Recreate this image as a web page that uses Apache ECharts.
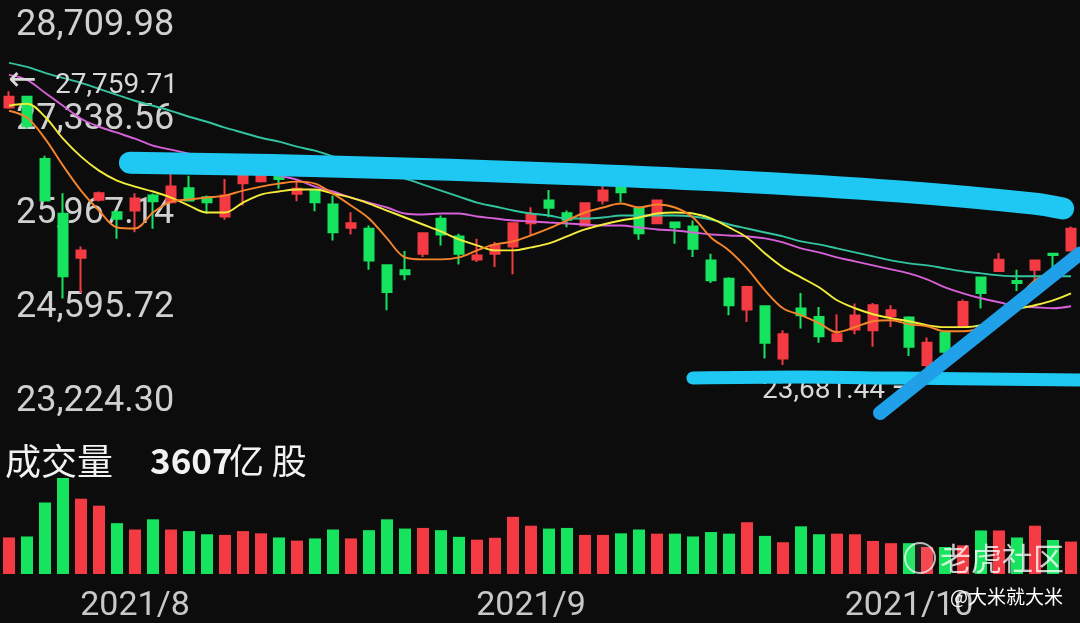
<!DOCTYPE html>
<html><head><meta charset="utf-8">
<script src="https://cdn.jsdelivr.net/npm/echarts@6/dist/echarts.min.js"></script>
<style>html,body{margin:0;padding:0;background:#0c0c0c;}#c{width:1080px;height:623px;}</style>
</head><body><div id="c"></div>
<script>
// ---- data ----
const dates = ['2021-07-22','2021-07-23','2021-07-26','2021-07-27','2021-07-28','2021-07-29','2021-07-30',
 '2021-08-02','2021-08-03','2021-08-04','2021-08-05','2021-08-06','2021-08-09','2021-08-10','2021-08-11','2021-08-12','2021-08-13',
 '2021-08-16','2021-08-17','2021-08-18','2021-08-19','2021-08-20','2021-08-23','2021-08-24','2021-08-25','2021-08-26','2021-08-27',
 '2021-08-30','2021-08-31',
 '2021-09-01','2021-09-02','2021-09-03','2021-09-06','2021-09-07','2021-09-08','2021-09-09','2021-09-10','2021-09-13','2021-09-14',
 '2021-09-15','2021-09-16','2021-09-17','2021-09-20','2021-09-21','2021-09-23','2021-09-24','2021-09-27','2021-09-28','2021-09-29','2021-09-30',
 '2021-10-04','2021-10-05','2021-10-06','2021-10-07','2021-10-08','2021-10-11','2021-10-12','2021-10-15','2021-10-18','2021-10-19'];

const openP  = [27521,27677,26770,25970,25330,26174,25993,26018,26236,26139,
                26343,26212,25931,26415,26444,26575,26261,26309,26105,25766,
                25752,25218,25145,25388,25897,25640,25305,25388,25494,25833,
                26164,25979,25800,26164,26348,26043,25833,25843,25785,25290,
                25024,24573,24621,23860,24588,24465,24116,24282,24272,24476,
                24457,23763,24233,24320,25039,25135,24989,25155,25388,25436];
const closeP = [27677,27255,26164,25058,25436,26270,25897,26193,26153,26367,
                26164,26139,26236,26561,26586,26479,26334,26139,25702,25833,
                25290,24829,25087,25688,25669,25388,25363,25509,25833,25960,
                26057,25883,26124,26309,26284,25688,26164,25775,25461,24999,
                24636,24902,24087,24214,24490,24185,24214,24486,24636,24563,
                24029,24087,23956,24684,24815,25301,24960,25290,25368,25752];
const lowP   = [27502,27211,26149,24733,24815,26149,25606,25702,25752,26120,
                26149,25970,25883,26091,26425,26334,26153,26008,25581,25669,
                25155,24563,24999,25338,25509,25232,25266,25193,25087,25654,
                25921,25775,25785,26105,26139,25592,25821,25533,25338,24960,
                24490,24393,23860,23763,24297,24087,24097,24214,24029,24320,
                23894,23681.44,23825,24308,24588,25123,24844,24902,25097,25421];
const highP  = [27759.71,27691,26818,26270,25494,26294,26018,26270,26265,26552,
                26527,26236,26479,26571,26600,26639,26479,26323,26236,25993,
                25800,25232,25426,25698,25945,25679,25606,25557,25848,26066,
                26319,26018,26134,26415,26430,26076,26178,25858,25873,25388,
                25043,24919,24636,24272,24815,24611,24505,24660,24669,24636,
                24476,24166,24257,24719,25050,25397,25155,25297,25392,25785];

const volume = [1373,1409,2687,3607,2830,2568,1911,1672,2054,1672,
                1612,1493,1469,1612,1528,1373,1254,1337,1672,1337,
                1648,2054,1707,1731,1648,1397,1290,1361,2149,1815,
                1707,1731,1469,1469,1528,1672,1516,1516,1409,1576,
                1516,1946,1433,1194,1791,1493,1516,1493,1242,1158,
                1158,1015,1015,1075,1636,1636,1373,1815,1278,1218];

const ma5  = [27473,27371,27066,26673,26309,26018,25771,25756,25989,26149,
              26178,26207,26236,26309,26367,26411,26440,26411,26265,26091,
              25902,25611,25334,25305,25305,25334,25436,25523,25567,25654,
              25756,25873,25989,26062,26120,26062,26105,26062,25916,25625,
              25436,25174,24854,24592,24490,24374,24243,24316,24403,24417,
              24359,24330,24257,24257,24316,24548,24738,24999,25145,25320];
const ma10 = [27546,27575,27386,27066,26804,26600,26455,26367,26295,26207,
              26091,25989,25989,26134,26251,26295,26324,26324,26265,26207,
              26120,26018,25916,25814,25712,25596,25509,25436,25436,25480,
              25538,25640,25742,25814,25873,25916,25974,25989,25974,25902,
              25771,25625,25392,25189,25043,24898,24708,24592,24505,24447,
              24403,24345,24316,24316,24345,24461,24577,24636,24708,24810];
const ma20 = [27997,27924,27735,27546,27357,27240,27153,27066,26964,26906,
              26847,26789,26731,26658,26600,26527,26469,26367,26295,26207,
              26134,26062,25974,25960,25974,25974,25931,25902,25873,25858,
              25843,25829,25814,25800,25800,25771,25742,25727,25698,25669,
              25654,25640,25611,25552,25465,25407,25334,25276,25218,25160,
              25101,25014,24898,24810,24738,24679,24621,24607,24592,24621];
const ma60 = [28172,28113,28026,27953,27881,27793,27706,27619,27546,27473,
              27386,27313,27226,27153,27080,27022,26949,26891,26804,26702,
              26600,26542,26484,26396,26309,26222,26134,26076,26018,25974,
              25945,25902,25902,25916,25945,25945,25945,25945,25931,25887,
              25814,25756,25698,25640,25567,25523,25465,25407,25349,25290,
              25247,25218,25174,25130,25101,25072,25058,25058,25058,25058];

const priceTicks = [23224.30, 24595.72, 25967.14, 27338.56, 28709.98];
const monthTickIndex = [7, 29, 50];
const monthTickText = ['2021/8', '2021/9', '2021/10'];

// hand-drawn annotations, as [candle position, price]
const annoTop  = [[7.22,26716],[18.89,26658],[31.11,26556],[40.0,26455],[50.0,26295],[57.39,26120],[59.06,26047]];
const annoLow  = [[38.5,23573],[44.44,23588],[50,23573],[60,23544]];
const annoRise = [[48.89,23064],[60,25392]];

// ---- chart ----
const UP = '#f43a42', DOWN = '#16e35e';
const fmt = v => Number(v).toLocaleString('en-US', {minimumFractionDigits: 2, maximumFractionDigits: 2});
const chart = echarts.init(document.getElementById('c'), null, {renderer: 'canvas'});

const candleData = dates.map((d, i) => [openP[i], closeP[i], lowP[i], highP[i]]);
const volData = volume.map((v, i) => ({value: v, itemStyle: {color: closeP[i] >= openP[i] ? UP : DOWN}}));
const maLine = (data, color) => ({
  type: 'line', xAxisIndex: 0, yAxisIndex: 0, data: data, smooth: 0.35, symbol: 'none',
  lineStyle: {color: color, width: 1.9}, z: 4, silent: true
});
const anno = (data, color, width) => ({
  type: 'line', xAxisIndex: 2, yAxisIndex: 0, data: data, smooth: 0.4, symbol: 'none', clip: false,
  lineStyle: {color: color, width: width, cap: 'round', join: 'round'}, z: 10, silent: true
});

chart.setOption({
  backgroundColor: '#0c0c0c',
  animation: false,
  grid: [
    {left: 0, right: 0, top: 26, height: 376},
    {left: 0, right: 0, top: 478, height: 102}
  ],
  xAxis: [
    {type: 'category', gridIndex: 0, data: dates, boundaryGap: true,
     axisLine: {show: false}, axisTick: {show: false}, axisLabel: {show: false}, splitLine: {show: false}},
    {type: 'category', gridIndex: 1, data: dates, boundaryGap: true,
     axisLine: {show: false}, axisTick: {show: false}, splitLine: {show: false},
     axisLabel: {
       interval: (i) => monthTickIndex.indexOf(i) >= 0,
       formatter: (v, i) => monthTickText[monthTickIndex.indexOf(i)] || '',
       color: '#c8c8c8', fontSize: 34, fontFamily: 'Roboto', margin: 15
     }},
    {type: 'value', gridIndex: 0, min: 0, max: 60, show: false, position: 'top'}
  ],
  yAxis: [
    {type: 'value', gridIndex: 0, min: 23224.30, max: 28709.98, position: 'left',
     axisLine: {show: false}, axisTick: {show: false}, splitLine: {show: false},
     axisLabel: {inside: true, customValues: priceTicks, formatter: fmt,
                 color: '#d0d0d0', fontSize: 36, fontFamily: 'Roboto', margin: 16}},
    {type: 'value', gridIndex: 1, min: 0, max: 3607, show: false}
  ],
  series: [
    {type: 'candlestick', xAxisIndex: 0, yAxisIndex: 0, data: candleData, barWidth: 10, z: 3,
     itemStyle: {color: UP, color0: DOWN, borderColor: UP, borderColor0: DOWN, borderWidth: 2}},
    maLine(ma60, '#33c4a0'),
    maLine(ma20, '#d660d8'),
    maLine(ma10, '#f4ec3a'),
    maLine(ma5, '#f5842a'),
    {type: 'bar', xAxisIndex: 1, yAxisIndex: 1, data: volData, barWidth: 12, silent: true},
    anno(annoTop, '#1ec8f2', 22),
    anno(annoLow, '#1ec8f2', 13),
    anno(annoRise, '#1fa0e8', 14)
  ],
  graphic: [
    {type: 'text', x: 8, y: 81, z: 5, style: {text: '←', fill: '#d8d8d8', font: '34px "DejaVu Sans"', textVerticalAlign: 'middle'}},
    {type: 'text', x: 55, y: 86, z: 5, style: {text: '27,759.71', fill: '#d8d8d8', font: '28px Roboto', textVerticalAlign: 'middle'}},
    {type: 'text', x: 762, y: 391, z: 5, style: {text: '23,681.44', fill: '#d8d8d8', font: '28px Roboto', textVerticalAlign: 'middle'}},
    {type: 'text', x: 892, y: 389, z: 5, style: {text: '→', fill: '#d8d8d8', font: '32px "DejaVu Sans"', textVerticalAlign: 'middle'}},
    {type: 'text', x: 5, y: 461, z: 5, style: {text: '成交量', fill: '#f2f2f2', font: '36px "Noto Sans CJK SC"', textVerticalAlign: 'middle'}},
    {type: 'text', x: 150, y: 461, z: 5, style: {text: '3607', fill: '#f2f2f2', font: 'bold 35px "Noto Sans CJK SC"', textVerticalAlign: 'middle'}},
    {type: 'text', x: 229, y: 461, z: 5, style: {text: '亿 股', fill: '#f2f2f2', font: '35px "Noto Sans CJK SC"', textVerticalAlign: 'middle'}},
    {type: 'circle', z: 20, shape: {cx: 920, cy: 558, r: 15}, style: {fill: 'rgba(255,255,255,0.08)', stroke: 'rgba(255,255,255,0.7)', lineWidth: 2}},
    {type: 'text', x: 940, y: 558, z: 20, style: {text: '老虎社区', fill: 'rgba(255,255,255,0.78)', font: '31px "Noto Sans CJK SC"', textVerticalAlign: 'middle'}},
    {type: 'text', x: 950, y: 597, z: 20, style: {text: '@大米就大米', fill: '#ffffff', font: '19px "Noto Sans CJK SC"', textVerticalAlign: 'middle'}}
  ]
});
</script>
</body></html>
